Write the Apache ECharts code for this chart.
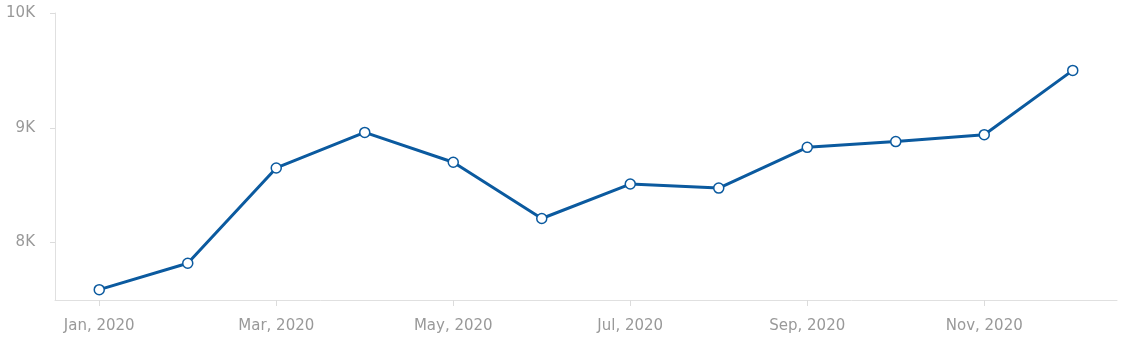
<!DOCTYPE html>
<html>
<head>
<meta charset="utf-8">
<script src="https://cdn.jsdelivr.net/npm/echarts@6/dist/echarts.min.js"></script>
<style>
html,body{margin:0;padding:0;background:#fff;}
#chart{width:1122px;height:338px;}
</style>
</head>
<body>
<div id="chart"></div>
<script>
const categories = ['Jan, 2020','Feb, 2020','Mar, 2020','Apr, 2020','May, 2020','Jun, 2020','Jul, 2020','Aug, 2020','Sep, 2020','Oct, 2020','Nov, 2020','Dec, 2020'];
const values = [7590, 7820, 8650, 8960, 8700, 8210, 8510, 8475, 8830, 8880, 8940, 9500];
const yTicks = [8000, 9000, 10000];

const chart = echarts.init(document.getElementById('chart'));
chart.setOption({
  animation: false,
  grid: {left: 55, right: 5, top: 13, bottom: 38, containLabel: false},
  xAxis: {
    type: 'category',
    data: categories,
    boundaryGap: true,
    axisLine: {lineStyle: {color: '#e0e0e0', width: 1}},
    axisTick: {show: true, alignWithLabel: true, interval: 1, length: 6, lineStyle: {color: '#dcdcdc'}},
    axisLabel: {interval: 1, color: '#999', fontSize: 15, fontFamily: 'DejaVu Sans', margin: 19}
  },
  yAxis: {
    type: 'value',
    min: 7500,
    max: 10000,
    splitLine: {show: false},
    axisLine: {show: true, lineStyle: {color: '#e0e0e0', width: 1}},
    axisTick: {show: true, length: 5, customValues: yTicks, lineStyle: {color: '#dcdcdc'}},
    axisLabel: {customValues: yTicks, color: '#999', fontSize: 15, fontFamily: 'DejaVu Sans', margin: 20,
      formatter: v => (v/1000) + 'K'}
  },
  series: [{
    type: 'line',
    data: values,
    symbol: 'circle',
    symbolSize: 10,
    lineStyle: {color: '#0b5a9f', width: 3},
    itemStyle: {color: '#fff', borderColor: '#0b5a9f', borderWidth: 1.5}
  }]
});
</script>
</body>
</html>
